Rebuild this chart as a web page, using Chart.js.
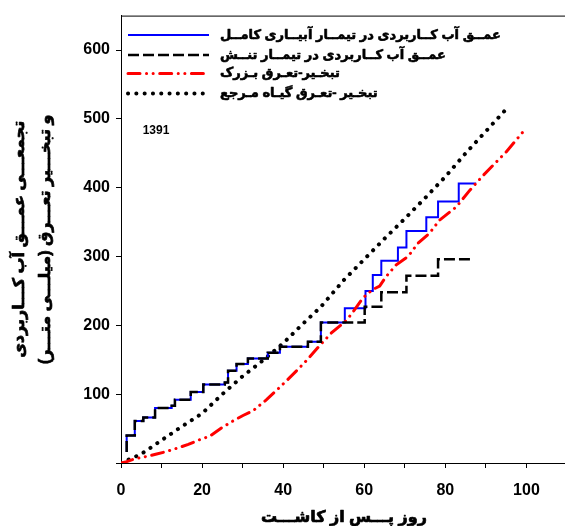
<!DOCTYPE html>
<html>
<head>
<meta charset="utf-8">
<script src="https://cdn.jsdelivr.net/npm/chart.js@4.4.0/dist/chart.umd.min.js"></script>
<style>
  html, body { margin: 0; padding: 0; background: #fff; overflow: hidden; }
  canvas { display: block; }
</style>
</head>
<body>
<canvas id="chart" width="580" height="526" dir="rtl"></canvas>
<script>
const FONT = "'Liberation Sans', 'DejaVu Sans', Arial, sans-serif";

// legend names
const seriesNames = [
  "عمــق آب کــاربردی در تیمــار آبیــاری کامــل",
  "عمــق آب کــاربردی در تیمــار تنــش",
  "تبخـیر-تعـرق بـزرک",
  "تبخـیر -تعـرق گیـاه مـرجع"
];
const xTitle = "روز پـــس از کاشـــت";
const yTitle = ["تجمعـــی عمـــق آب کـــاربردی", "و تبخـــیر تعـــرق (میلـــی متـــر)"];
const yearLabel = "1391";

// cumulative applied water, full irrigation (step: day where it jumps, new value)
const fullDays  = [1.4, 1.4, 3.4, 5.5, 8.4, 12.5, 13.3, 17.2, 20.3, 25.6, 26.4, 28.5, 31.3, 36.2, 39.2, 46.1, 49.3, 55.2, 60.3, 62.1, 64.2, 68.3, 70.4, 75.3, 78.2, 83.3, 87.6];
const fullDepth = [16, 40, 61, 66, 80, 83, 92, 103, 114, 117, 134, 144, 152, 160, 169, 176, 204, 225, 250, 273, 294, 313, 337, 357, 380, 406, 406];

// cumulative applied water, stress treatment
const stressDays  = [1.4, 1.4, 3.4, 5.5, 8.4, 12.5, 13.3, 17.2, 20.3, 25.6, 26.4, 28.5, 31.3, 36.2, 39.2, 46.1, 49.3, 60.1, 64.2, 70.4, 78.2, 86.6];
const stressDepth = [16, 40, 61, 66, 80, 83, 92, 103, 114, 117, 134, 144, 152, 160, 169, 176, 204, 227, 248, 272, 296, 296];

// crop (flax) ET
const cropDays = [0, 1.4, 3.4, 5.9, 8.8, 10.8, 14.1, 16.6, 19, 21.9, 24.8, 27.3, 30.1, 32.6, 35.9, 38.8, 41.6, 43.3, 46.1, 48.6, 51.9, 55.2, 56.8, 59.7, 62.1, 63.8, 65.4, 67.9, 70.8, 73.2, 76.1, 78.6, 82.7, 86, 89.2, 95, 100];
const cropET   = [0, 2, 6, 9, 13, 16, 22, 27, 33, 39, 51, 60, 69, 76, 92, 108, 124, 134, 151, 168, 189, 205, 216, 240, 252, 257, 271, 288, 300, 319, 334, 353, 372, 396, 417, 452, 487];

// reference ET
const refDays = [0, 5, 10, 15, 20, 25, 30, 35, 40, 45, 49.3, 55, 60, 65, 70, 75, 80, 85, 90, 95.3];
const refET   = [0, 13, 33, 53, 72, 100, 126, 149, 174, 203, 227, 266, 296, 326, 355, 385, 416, 450, 482, 516];

const xTickStep = 10;
const xLabelStep = 20;
const yTickStep = 100;

const pts = (xs, ys) => xs.map((x, i) => ({ x: x, y: ys[i] }));

// bold-looking arabic text (fill + thin stroke)
function boldText(ctx, txt, x, y, size, sw) {
  ctx.font = "bold " + size + "px " + FONT;
  ctx.fillStyle = "#000";
  ctx.strokeStyle = "#000";
  ctx.lineWidth = sw;
  ctx.lineJoin = "round";
  ctx.setLineDash([]);
  ctx.fillText(txt, x, y);
  ctx.strokeText(txt, x, y);
}

const textPlugin = {
  id: "textAndLegend",
  afterDraw(chart) {
    const { ctx, chartArea } = chart;
    const a = chartArea;
    ctx.save();
    // top frame line
    ctx.strokeStyle = "#000";
    ctx.lineWidth = 1;
    ctx.beginPath();
    ctx.moveTo(a.left, a.top + 0.5);
    ctx.lineTo(a.right, a.top + 0.5);
    ctx.stroke();

    // legend inside plot
    const rows = [19.5, 39.5, 58, 78];
    chart.data.datasets.forEach((ds, i) => {
      const y = a.top + rows[i];
      ctx.save();
      ctx.strokeStyle = ds.borderColor;
      ctx.lineWidth = ds.borderWidth;
      ctx.lineCap = ds.borderCapStyle || "butt";
      ctx.setLineDash(ds.borderDash || []);
      ctx.beginPath();
      ctx.moveTo(a.left + 7, y);
      ctx.lineTo(a.left + 88, y);
      ctx.stroke();
      ctx.restore();
      ctx.direction = "rtl";
      ctx.textAlign = "left";
      ctx.textBaseline = "middle";
      boldText(ctx, seriesNames[i], a.left + 99, y, 13, 0.6);
    });

    // axis titles
    ctx.direction = "rtl";
    ctx.textAlign = "center";
    ctx.textBaseline = "middle";
    boldText(ctx, xTitle, (a.left + a.right) / 2, 518, 16, 0.7);
    const cy = (a.top + a.bottom) / 2;
    [20, 46].forEach((x, i) => {
      ctx.save();
      ctx.translate(x, cy);
      ctx.rotate(-Math.PI / 2);
      boldText(ctx, yTitle[i], 0, 0, 16, 0.7);
      ctx.restore();
    });

    ctx.font = "bold 12px " + FONT;
    ctx.direction = "ltr";
    ctx.fillStyle = "#000";
    ctx.fillText(yearLabel, a.left + 35, a.top + 115);
    ctx.restore();
  }
};

new Chart(document.getElementById("chart"), {
  type: "line",
  data: {
    datasets: [
      {
        label: seriesNames[0],
        data: pts(fullDays, fullDepth),
        stepped: "before",
        borderColor: "#0000ff",
        borderWidth: 2,
        pointRadius: 0,
        order: 1
      },
      {
        label: seriesNames[1],
        data: pts(stressDays, stressDepth),
        stepped: "before",
        borderColor: "#000000",
        borderWidth: 2.5,
        borderDash: [11, 4],
        pointRadius: 0,
        order: -1
      },
      {
        label: seriesNames[2],
        data: pts(cropDays, cropET),
        borderColor: "#ff0000",
        borderWidth: 3,
        borderDash: [12, 6.5, 0.1, 6.5, 0.1, 6.5],
        borderCapStyle: "round",
        pointRadius: 0,
        tension: 0,
        order: 0
      },
      {
        label: seriesNames[3],
        data: pts(refDays, refET),
        borderColor: "#000000",
        borderWidth: 4,
        borderDash: [0.1, 8.2],
        borderCapStyle: "round",
        pointRadius: 0,
        tension: 0,
        order: 2
      }
    ]
  },
  options: {
    responsive: false,
    animation: false,
    layout: { padding: { top: 13, right: 13, left: 0, bottom: 0 } },
    plugins: {
      legend: { display: false },
      tooltip: { enabled: false }
    },
    scales: {
      x: {
        type: "linear",
        min: 0,
        max: 110,
        afterFit: (s) => { s.height = 63; },
        border: { display: true, color: "#000", width: 1 },
        grid: { drawOnChartArea: false, drawTicks: true, tickLength: 5, color: "#000" },
        ticks: {
          stepSize: xTickStep,
          padding: 13,
          color: "#000",
          font: { family: FONT, size: 16, weight: "bold" },
          maxRotation: 0,
          autoSkip: false,
          callback: (v) => (v % xLabelStep === 0 && v <= 100 ? v : "")
        },
        title: { display: false }
      },
      y: {
        type: "linear",
        min: 0,
        max: 650,
        afterFit: (s) => { s.width = 121; },
        border: { display: true, color: "#000", width: 1 },
        grid: { drawOnChartArea: false, drawTicks: true, tickLength: 5, color: "#000" },
        ticks: {
          stepSize: yTickStep,
          includeBounds: false,
          padding: 6,
          color: "#000",
          font: { family: FONT, size: 16, weight: "bold" },
          callback: (v) => (v === 0 ? "" : v)
        },
        title: { display: false }
      }
    }
  },
  plugins: [textPlugin]
});
</script>
</body>
</html>
